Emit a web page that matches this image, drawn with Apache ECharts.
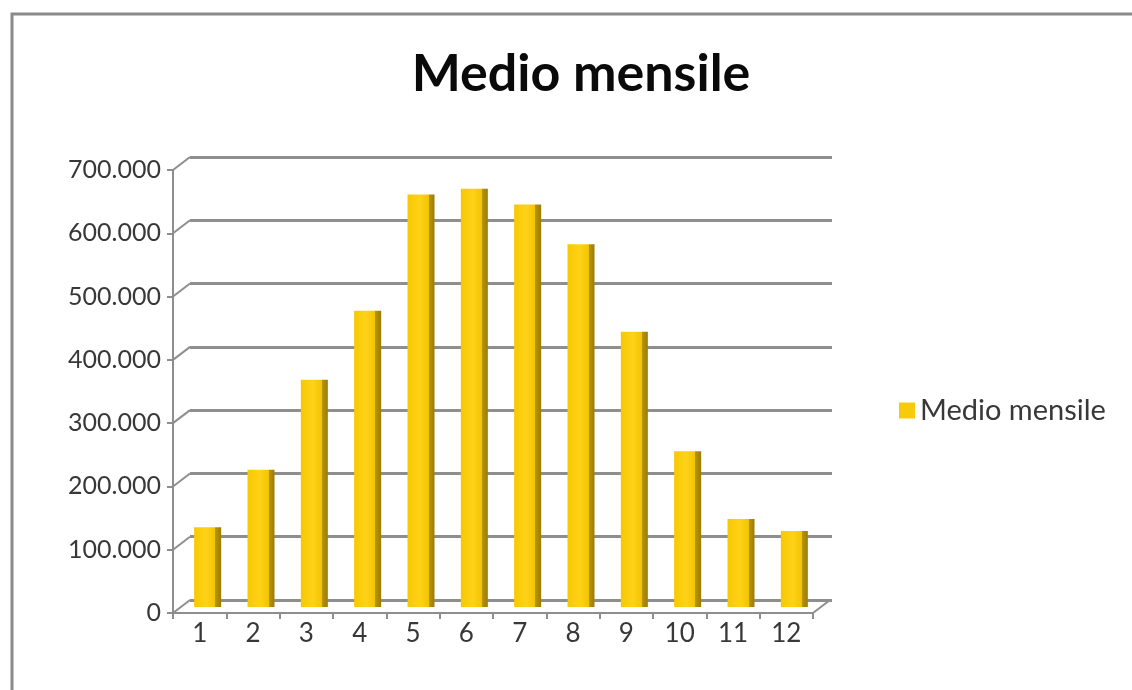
<!DOCTYPE html>
<html>
<head>
<meta charset="utf-8">
<script src="https://cdn.jsdelivr.net/npm/echarts@6/dist/echarts.min.js"></script>
<style>
  html, body { margin: 0; padding: 0; background: #fff; }
  #main { width: 1132px; height: 690px; }
</style>
</head>
<body>
<div id="main"></div>
<script>
// dati
var months = ['1', '2', '3', '4', '5', '6', '7', '8', '9', '10', '11', '12'];
var medioMensile = [126000, 217000, 359000, 468000, 652000, 661000, 636000, 573000, 435000, 246000, 139000, 120000];
var yTicks = [0, 100000, 200000, 300000, 400000, 500000, 600000, 700000];
var yMax = 700000;
var yStep = 100000;

function fmt(v) {
  // separatore migliaia con il punto
  return String(v).replace(/\B(?=(\d{3})+(?!\d))/g, '.');
}

var chart = echarts.init(document.getElementById('main'));
var gridColor = '#8e8e8e';
var txt = '#383838';
// spostamento prospettico della parete di fondo
var depthX = 17, depthY = -13;

var option = {
  backgroundColor: '#fff',
  animation: false,
  title: {
    text: 'Medio mensile',
    left: 576,
    textAlign: 'center',
    top: 43,
    textStyle: {
      fontFamily: 'Lato',
      fontWeight: 'bold',
      fontSize: 52,
      color: '#0a0a0a'
    }
  },
  legend: {
    data: ['Medio mensile'],
    left: 894,
    top: 391,
    orient: 'vertical',
    icon: 'rect',
    itemWidth: 16,
    itemHeight: 16,
    itemGap: 6,
    itemStyle: { color: '#f7cb0c' },
    textStyle: {
      fontFamily: 'Lato',
      fontSize: 29,
      color: txt
    }
  },
  graphic: [{
    type: 'rect',
    shape: { x: 12, y: 14, width: 1150, height: 700 },
    style: { fill: 'none', stroke: '#8a8a8a', lineWidth: 3 },
    z: 100
  }],
  grid: [
    // parete di fondo (griglia)
    { left: 190, right: 300, top: 157, bottom: 90 },
    // assi frontali
    { left: 173, right: 319, top: 170, bottom: 77 },
    // colonne
    { left: 181, right: 311, top: 164, bottom: 83 }
  ],
  xAxis: [
    {
      gridIndex: 0, type: 'category', data: months, show: false
    },
    {
      gridIndex: 1, type: 'category', data: months,
      axisLine: { show: true, lineStyle: { color: gridColor, width: 2 } },
      axisTick: { show: true, length: 6, lineStyle: { color: gridColor, width: 2 } },
      axisLabel: { fontFamily: 'Lato', fontSize: 26, color: txt, margin: 8 },
      splitLine: { show: false }
    },
    {
      gridIndex: 2, type: 'category', data: months, show: false
    }
  ],
  yAxis: [
    {
      gridIndex: 0, type: 'value', min: 0, max: yMax, interval: yStep,
      axisLine: { show: false }, axisTick: { show: false }, axisLabel: { show: false },
      splitLine: { show: true, lineStyle: { color: gridColor, width: 3 } }
    },
    {
      gridIndex: 1, type: 'value', min: 0, max: yMax, interval: yStep,
      axisLine: { show: true, lineStyle: { color: gridColor, width: 2 } },
      axisTick: { show: true, length: 6, lineStyle: { color: gridColor, width: 2 } },
      axisLabel: {
        fontFamily: 'Lato', fontSize: 25, color: txt, margin: 12,
        formatter: function (v) { return fmt(v); }
      },
      splitLine: { show: false }
    },
    {
      gridIndex: 2, type: 'value', min: 0, max: yMax, interval: yStep, show: false,
      splitLine: { show: false }
    }
  ],
  series: [{
    // raccordi obliqui tra assi frontali e parete di fondo
    type: 'custom',
    xAxisIndex: 1,
    yAxisIndex: 1,
    silent: true,
    data: yTicks.map(function (v) { return [0, v]; }).concat([[1, 0]]),
    renderItem: function (params, api) {
      var isRight = api.value(0) === 1;
      var y = api.coord([months[0], api.value(1)])[1];
      var x = isRight ? params.coordSys.x + params.coordSys.width : params.coordSys.x;
      return {
        type: 'line',
        shape: { x1: x, y1: y, x2: x + depthX, y2: y + depthY },
        style: { stroke: gridColor, lineWidth: 2 }
      };
    },
    z: 1
  }, {
    name: 'Medio mensile',
    type: 'bar',
    xAxisIndex: 2,
    yAxisIndex: 2,
    data: medioMensile,
    barWidth: 27,
    itemStyle: {
      color: {
        type: 'linear', x: 0, y: 0, x2: 1, y2: 0,
        colorStops: [
          { offset: 0, color: '#f7c800' },
          { offset: 0.45, color: '#ffd21a' },
          { offset: 0.78, color: '#f2c400' },
          { offset: 0.79, color: '#b8930a' },
          { offset: 1, color: '#9c7c08' }
        ]
      }
    },
    z: 3
  }]
};

chart.setOption(option);
</script>
</body>
</html>
